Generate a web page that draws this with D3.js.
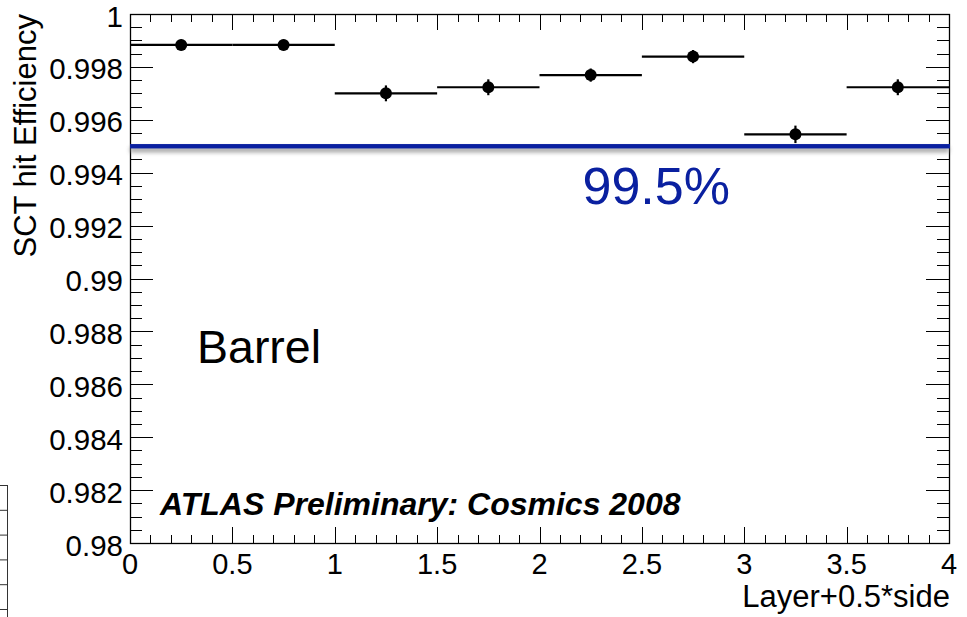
<!DOCTYPE html>
<html>
<head>
<meta charset="utf-8">
<script src="https://cdn.jsdelivr.net/npm/d3@7"></script>
<style>
  html, body { margin: 0; padding: 0; background: #fff; }
  svg { display: block; font-family: "Liberation Sans", Arial, Helvetica, sans-serif; }
</style>
</head>
<body>
<svg id="chart" width="967" height="617"></svg>
<script>
// ---- data ----
const binLow     = [0, 0.5, 1, 1.5, 2, 2.5, 3, 3.5];
const binHigh    = [0.5, 1, 1.5, 2, 2.5, 3, 3.5, 4];
const efficiency = [0.99883, 0.99883, 0.99700, 0.99723, 0.99769, 0.99839, 0.99545, 0.99723];
const effError   = [0.0002, 0.0002, 0.0003, 0.0003, 0.00025, 0.00025, 0.00033, 0.0003];
const xTicks     = [0, 0.5, 1, 1.5, 2, 2.5, 3, 3.5, 4];
const xTickLabels = ["0", "0.5", "1", "1.5", "2", "2.5", "3", "3.5", "4"];
const yTicks     = [0.98, 0.982, 0.984, 0.986, 0.988, 0.99, 0.992, 0.994, 0.996, 0.998, 1];
const yTickLabels = ["0.98", "0.982", "0.984", "0.986", "0.988", "0.99", "0.992", "0.994", "0.996", "0.998", "1"];
const refValue   = 0.995;
const refLabel   = "99.5%";
const xTitle     = "Layer+0.5*side";
const yTitle     = "SCT hit Efficiency";
const regionLabel = "Barrel";
const atlasLabel = "ATLAS Preliminary: Cosmics 2008";

// ---- layout ----
const L = 130, R = 949, T = 14, B = 543;
const svg = d3.select("#chart");
const x = d3.scaleLinear().domain([0, 4]).range([L, R]);
const y = d3.scaleLinear().domain([0.98, 1]).range([B, T]);

const defs = svg.append("defs");
defs.append("filter").attr("id", "blur").attr("filterUnits", "userSpaceOnUse")
  .attr("x", 0).attr("y", 0).attr("width", 967).attr("height", 617)
  .append("feGaussianBlur").attr("stdDeviation", 2.2);

// decoration: fragment of a neighbouring table at the lower-left edge
const deco = svg.append("g").attr("stroke", "#333").attr("stroke-width", 1).attr("fill", "none");
deco.append("line").attr("x1", 7.5).attr("x2", 7.5).attr("y1", 485).attr("y2", 617);
d3.range(6).forEach(i => {
  const yy = 485.5 + i * 24.8;
  deco.append("line").attr("x1", 0).attr("x2", 7.5).attr("y1", yy).attr("y2", yy);
});

// ---- axes (ROOT style, ticks inside, on all four sides) ----
const minorX = d3.range(0, 40.5, 1).map(d => d / 10);
const minorY = d3.range(0, 40.5, 1).map(d => 0.98 + d * 0.0005);

const tickG = svg.append("g").attr("stroke", "#000").attr("stroke-width", 1);
minorX.forEach((v, i) => {
  const major = i % 5 === 0;
  const len = major ? 16 : 8;
  const xx = Math.round(x(v)) + 0.5;
  tickG.append("line").attr("x1", xx).attr("x2", xx).attr("y1", B).attr("y2", B - len);
  tickG.append("line").attr("x1", xx).attr("x2", xx).attr("y1", T).attr("y2", T + len);
});
minorY.forEach((v, i) => {
  const major = i % 4 === 0;
  const len = major ? 23 : 12;
  const yy = Math.round(y(v)) + 0.5;
  tickG.append("line").attr("x1", L).attr("x2", L + len).attr("y1", yy).attr("y2", yy);
  tickG.append("line").attr("x1", R).attr("x2", R - len).attr("y1", yy).attr("y2", yy);
});

// frame
svg.append("rect").attr("x", L + 0.5).attr("y", T + 0.5).attr("width", R - L).attr("height", B - T)
  .attr("fill", "none").attr("stroke", "#000").attr("stroke-width", 1.3);

// tick labels
svg.append("g").selectAll("text").data(xTicks).join("text")
  .attr("x", d => x(d)).attr("y", B + 31)
  .attr("text-anchor", "middle").attr("font-size", 29).attr("fill", "#000")
  .text((d, i) => xTickLabels[i]);
svg.append("g").selectAll("text").data(yTicks).join("text")
  .attr("x", L - 7).attr("y", d => y(d) + 12.5)
  .attr("text-anchor", "end").attr("font-size", 29.5).attr("fill", "#000")
  .text((d, i) => yTickLabels[i]);

// axis titles
svg.append("text").attr("x", R + 1).attr("y", 607).attr("text-anchor", "end")
  .attr("font-size", 31).attr("fill", "#000").text(xTitle);
svg.append("text").attr("transform", `translate(36,${T}) rotate(-90)`).attr("text-anchor", "end")
  .attr("font-size", 31).attr("fill", "#000").text(yTitle);

// reference line with soft shadow
const yr = y(refValue);
svg.append("rect").attr("x", x(0)).attr("y", yr + 1).attr("width", x(4) - x(0)).attr("height", 5)
  .attr("fill", "#8a8a8a").attr("opacity", 0.8).attr("filter", "url(#blur)");
svg.append("rect").attr("x", x(0)).attr("y", yr - 2.2).attr("width", x(4) - x(0) + 1).attr("height", 4.4)
  .attr("fill", "#0a20a0");
svg.append("text").attr("x", x(2.21)).attr("y", yr + 58)
  .attr("font-size", 52).attr("fill", "#0a20a0").text(refLabel);

// data points with error bars
const pts = svg.append("g");
efficiency.forEach((v, i) => {
  const cx = x((binLow[i] + binHigh[i]) / 2);
  pts.append("line").attr("x1", x(binLow[i])).attr("x2", x(binHigh[i])).attr("y1", y(v)).attr("y2", y(v))
    .attr("stroke", "#000").attr("stroke-width", 2.2);
  pts.append("line").attr("x1", cx).attr("x2", cx).attr("y1", y(v - effError[i])).attr("y2", y(v + effError[i]))
    .attr("stroke", "#000").attr("stroke-width", 2.2);
  pts.append("circle").attr("cx", cx).attr("cy", y(v)).attr("r", 6).attr("fill", "#000");
});

// labels
svg.append("text").attr("x", 197).attr("y", 363).attr("font-size", 46.5).attr("fill", "#000").text(regionLabel);
svg.append("text").attr("x", 160).attr("y", 515).attr("font-size", 32).attr("font-weight", "bold")
  .attr("font-style", "italic").attr("fill", "#000").text(atlasLabel);
</script>
</body>
</html>
